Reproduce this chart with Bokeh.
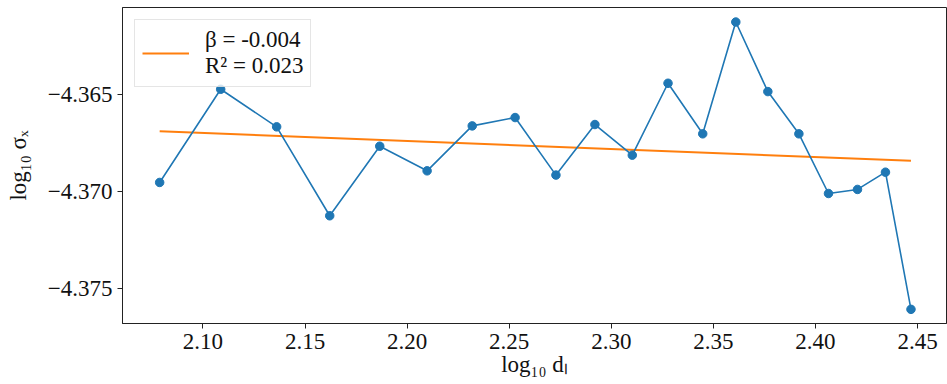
from bokeh.plotting import figure
from bokeh.models import FixedTicker, Range1d, Legend, LegendItem
from bokeh.embed import file_html
from bokeh.resources import INLINE

# data
x_vals = [2.0788, 2.1087, 2.1361, 2.1621, 2.1866, 2.2098, 2.2319, 2.2529, 2.2729, 2.2920,
          2.3103, 2.3278, 2.3448, 2.3610, 2.3767, 2.3919, 2.4064, 2.4206, 2.4343, 2.4468]
y_vals = [-4.36952, -4.36471, -4.36665, -4.37124, -4.36765, -4.36892, -4.36660, -4.36617,
          -4.36914, -4.36653, -4.36811, -4.36440, -4.36701, -4.36124, -4.36483, -4.36701,
          -4.37009, -4.36988, -4.36899, -4.37607]
fit_x = [2.0788, 2.4468]
fit_y = [-4.36688, -4.36840]
fit_label = "β = -0.004\nR² = 0.023"

x_ticks = [2.10, 2.15, 2.20, 2.25, 2.30, 2.35, 2.40, 2.45]
x_tick_labels = ["2.10", "2.15", "2.20", "2.25", "2.30", "2.35", "2.40", "2.45"]
y_ticks = [-4.375, -4.370, -4.365]
y_tick_labels = ["\u22124.375", "\u22124.370", "\u22124.365"]

FONT = "Liberation Serif"

p = figure(width=947, height=384, output_backend="svg", toolbar_location=None,
           x_range=Range1d(2.0606, 2.4642), y_range=Range1d(-4.37680, -4.36049),
           min_border_left=122, min_border_right=1, min_border_top=7, min_border_bottom=61)
p.xgrid.visible = False
p.ygrid.visible = False
p.outline_line_color = "#222222"
p.outline_line_width = 1
p.background_fill_color = "white"
p.border_fill_color = "white"

fit = p.line(fit_x, fit_y, line_color="#ff7f0e", line_width=2)
p.line(x_vals, y_vals, line_color="#1f77b4", line_width=1.6)
p.scatter(x_vals, y_vals, size=8.5, fill_color="#1f77b4", line_color="#1f77b4")

for ax, ticks, labels in ((p.xaxis[0], x_ticks, x_tick_labels), (p.yaxis[0], y_ticks, y_tick_labels)):
    ax.ticker = FixedTicker(ticks=ticks)
    ax.major_label_overrides = {t: l for t, l in zip(ticks, labels)}
    ax.minor_tick_line_color = None
    ax.major_tick_in = 0
    ax.major_tick_out = 5
    ax.major_tick_line_color = "#222222"
    ax.axis_line_color = "#222222"
    ax.major_label_text_font = FONT
    ax.major_label_text_font_size = "23px"
    ax.major_label_text_color = "#111111"
    ax.axis_label_text_font = FONT
    ax.axis_label_text_font_size = "23px"
    ax.axis_label_text_font_style = "normal"
    ax.axis_label_text_color = "#111111"

p.xaxis.major_label_standoff = 5
p.yaxis.major_label_standoff = 5
p.xaxis.axis_label = "log\u2081\u2080 d\u2097"
p.yaxis.axis_label = "log\u2081\u2080 \u03c3\u2093"
p.xaxis.axis_label_standoff = 0
p.yaxis.axis_label_standoff = 14

legend = Legend(items=[LegendItem(label=fit_label, renderers=[fit])], location="top_left")
legend.margin = 12
legend.padding = 7
legend.glyph_width = 47
legend.label_standoff = 16
legend.label_text_font = FONT
legend.label_text_font_size = "23px"
legend.label_text_color = "#111111"
legend.border_line_color = "#cccccc"
legend.border_line_width = 1
legend.background_fill_alpha = 0.8
p.add_layout(legend)

open("out.html", "w").write(file_html(p, INLINE))
